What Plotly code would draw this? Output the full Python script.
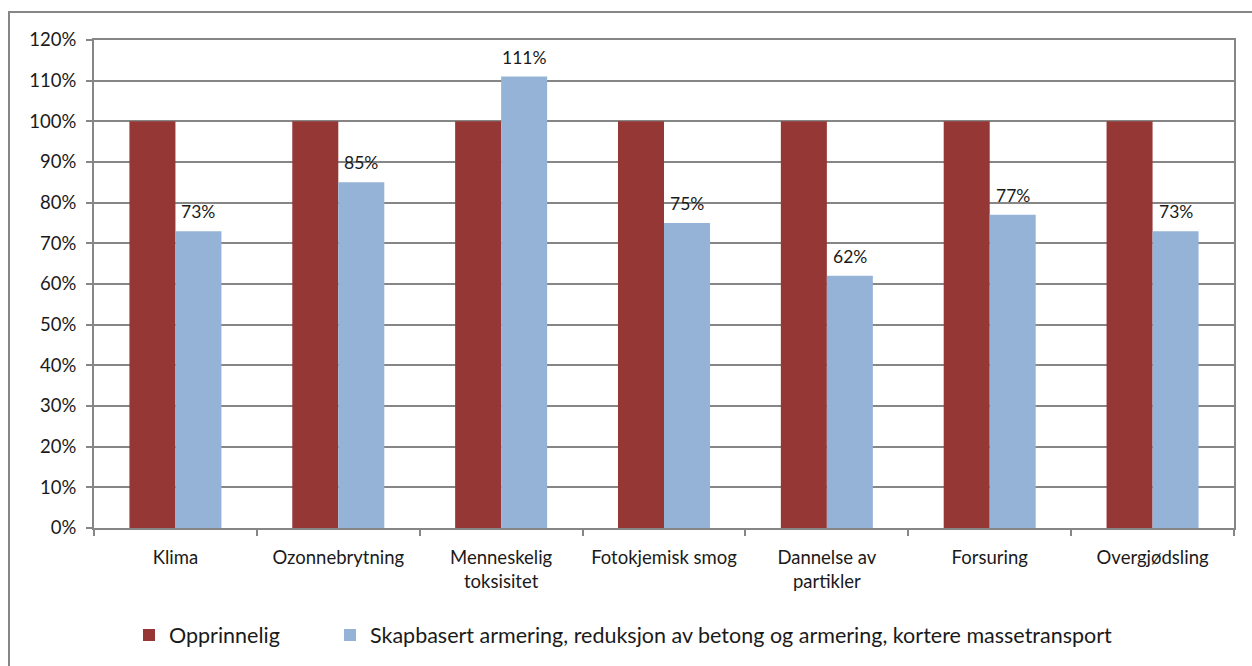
import plotly.graph_objects as go

categories = ["Klima", "Ozonnebrytning", "Menneskelig<br>toksisitet", "Fotokjemisk smog",
              "Dannelse av<br>partikler", "Forsuring", "Overgjødsling"]
opprinnelig = [100, 100, 100, 100, 100, 100, 100]
skapbasert = [73, 85, 111, 75, 62, 77, 73]
series_names = ["Opprinnelig",
                "Skapbasert armering, reduksjon av betong og armering, kortere massetransport"]
y_ticks = list(range(0, 121, 10))
y_tick_labels = [f"{v}%" for v in y_ticks]

FONT = "Lato, 'Open Sans', sans-serif"
GRID = "#868686"
TEXT = "#1a1a1a"

fig = go.Figure()
fig.add_bar(x=categories, y=opprinnelig, name=series_names[0], legend="legend",
            marker=dict(color="#953735", line=dict(width=0)))
fig.add_bar(x=categories, y=skapbasert, name=series_names[1], legend="legend2",
            marker=dict(color="#95B3D7", line=dict(width=0)))

W, H = 1252, 666
L, R, T, B = 94, 18, 40, 137
pw, ph = W - L - R, H - T - B
BARGAP = 0.435
cat_w = pw / len(categories)
bar_w = cat_w * (1 - BARGAP) / 2

# value labels above the second series (right bar of each group)
annotations = []
for cat, v in zip(categories, skapbasert):
    annotations.append(dict(x=cat, y=v, xref="x", yref="y", text=f"{v}%",
                            showarrow=False, xanchor="center", yanchor="bottom",
                            xshift=bar_w / 2, yshift=7,
                            font=dict(size=17.5, family=FONT, color=TEXT)))


def px_x(p):
    return (p - L) / pw


def px_y(p):
    return (H - B - p) / ph


legend_style = dict(orientation="h", xanchor="left", y=px_y(635), yanchor="middle",
                    font=dict(size=21.5, family=FONT, color=TEXT),
                    itemwidth=30, bgcolor="rgba(0,0,0,0)")

fig.update_layout(
    width=W, height=H,
    margin=dict(l=L, r=R, t=T, b=B),
    paper_bgcolor="white", plot_bgcolor="white",
    barmode="group", bargap=BARGAP, bargroupgap=0,
    font=dict(family=FONT, size=18.5, color=TEXT),
    showlegend=True,
    legend=dict(x=px_x(129), **legend_style),
    legend2=dict(x=px_x(330), **legend_style),
    xaxis=dict(showline=True, linecolor=GRID, linewidth=2, mirror=True,
               ticks="outside", tickson="boundaries", ticklen=6, tickcolor=GRID, tickwidth=2,
               ticklabelstandoff=12,
               tickfont=dict(size=18.5, family=FONT, color=TEXT), showgrid=False),
    yaxis=dict(range=[0, 120], tickvals=y_ticks, ticktext=y_tick_labels,
               showline=True, linecolor=GRID, linewidth=2, mirror=True,
               ticks="outside", ticklen=6, tickcolor=GRID, tickwidth=2,
               ticklabelstandoff=6,
               showgrid=True, gridcolor=GRID, gridwidth=1.5, zeroline=False,
               tickfont=dict(size=18.5, family=FONT, color=TEXT)),
    annotations=annotations,
    shapes=[dict(type="rect", xref="paper", yref="paper",
                 x0=px_x(9), x1=px_x(1262), y0=px_y(12), y1=px_y(680),
                 line=dict(color=GRID, width=2), fillcolor="rgba(0,0,0,0)", layer="below")],
)

fig.write_html("out.html")
